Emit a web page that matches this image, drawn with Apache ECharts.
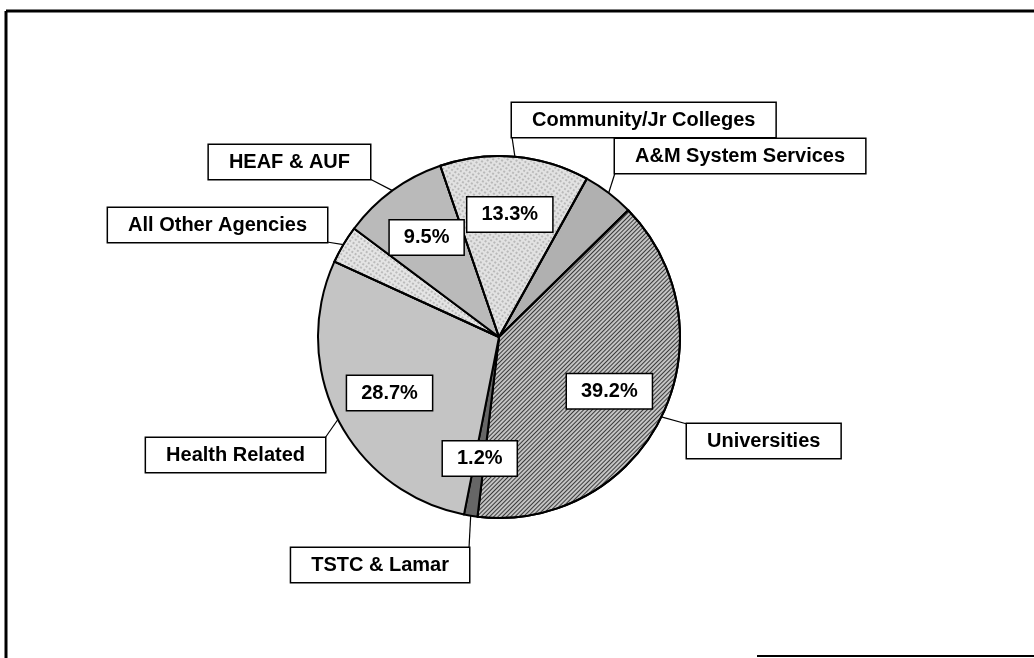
<!DOCTYPE html>
<html>
<head>
<meta charset="utf-8">
<script src="https://cdn.jsdelivr.net/npm/echarts@6/dist/echarts.min.js"></script>
<style>
  html, body { margin: 0; padding: 0; background: #fff; }
  #main { width: 1034px; height: 658px; }
</style>
</head>
<body>
<div id="main"></div>
<script>
// slices, clockwise starting just right of 12 o'clock
var names = ['A&M System Services', 'Universities', 'TSTC & Lamar', 'Health Related',
  'All Other Agencies', 'HEAF & AUF', 'Community/Jr Colleges'];
var shares = [4.6, 39.2, 1.2, 28.7, 3.4, 9.5, 13.3];

// corner of each name box that the leader line touches
var boxAnchor = [[615, 173], [687, 424], [469, 548], [325, 438], [327, 242], [370, 179], [512, 137]];
var boxAlign = [['left', 'bottom'], ['left', 'top'], ['right', 'top'], ['right', 'top'],
  ['right', 'bottom'], ['right', 'bottom'], ['left', 'bottom']];

var fills = ['#b0b0b0', '#c4c4c4', '#666666', '#c4c4c4', '#e4e4e4', '#bababa', '#e2e2e2'];
var hatch = {symbol: 'rect', dashArrayX: [1, 0], dashArrayY: [1, 2], rotation: -Math.PI / 4, color: 'rgba(0,0,0,0.7)'};
var squiggle = {symbol: 'rect', symbolSize: 0.6, dashArrayX: [[2, 2]], dashArrayY: [2, 2], rotation: 0.6, color: 'rgba(0,0,0,0.6)'};
var decals = [null, hatch, null, null, squiggle, null, squiggle];

var chart = echarts.init(document.getElementById('main'));

var boxText = {
  fontFamily: 'Liberation Sans, Arial, sans-serif',
  fontWeight: 'bold',
  fontSize: 20,
  color: '#000',
  backgroundColor: '#fff',
  borderColor: '#000',
  borderWidth: 1.5
};

var sliceData = names.map(function (n, i) {
  var item = {name: n, value: shares[i], itemStyle: {color: fills[i]}};
  if (decals[i]) item.itemStyle.decal = decals[i];
  return item;
});

chart.setOption({
  animation: false,
  backgroundColor: '#fff',
  graphic: [
    {type: 'line', shape: {x1: 6, y1: 11, x2: 1034, y2: 11}, style: {stroke: '#000', lineWidth: 3}},
    {type: 'line', shape: {x1: 6, y1: 11, x2: 6, y2: 658}, style: {stroke: '#000', lineWidth: 3}},
    {type: 'line', shape: {x1: 757, y1: 656, x2: 1034, y2: 656}, style: {stroke: '#000', lineWidth: 2}}
  ],
  series: [
    {
      type: 'pie',
      center: [499, 337],
      radius: 181,
      startAngle: 61,
      clockwise: true,
      avoidLabelOverlap: false,
      silent: true,
      itemStyle: {borderColor: '#000', borderWidth: 2},
      label: Object.assign({show: true, position: 'outside', formatter: '{b}', padding: [7, 20, 7, 20]}, boxText),
      labelLine: {show: true, length: 10, length2: 10, lineStyle: {color: '#000', width: 1.2}},
      labelLayout: function (p) {
        var i = p.dataIndex;
        var a = boxAnchor[i];
        var edge = p.labelLinePoints ? p.labelLinePoints[0] : a;
        return {
          x: a[0], y: a[1],
          align: boxAlign[i][0], verticalAlign: boxAlign[i][1],
          labelLinePoints: [edge, a, a]
        };
      },
      emphasis: {disabled: true},
      data: sliceData
    },
    {
      // invisible twice-size pie so that the 'inside' labels land at ~2/3 radius
      type: 'pie',
      center: [499, 337],
      radius: [0, 240],
      startAngle: 61,
      clockwise: true,
      silent: true,
      avoidLabelOverlap: false,
      itemStyle: {color: 'rgba(0,0,0,0)', borderWidth: 0},
      label: Object.assign({show: true, position: 'inside', formatter: '{c}%', padding: [7, 14, 7, 14]}, boxText),
      labelLine: {show: false},
      emphasis: {disabled: true},
      data: names.map(function (n, i) { return {name: n, value: shares[i]}; })
    }
  ]
});
</script>
</body>
</html>
